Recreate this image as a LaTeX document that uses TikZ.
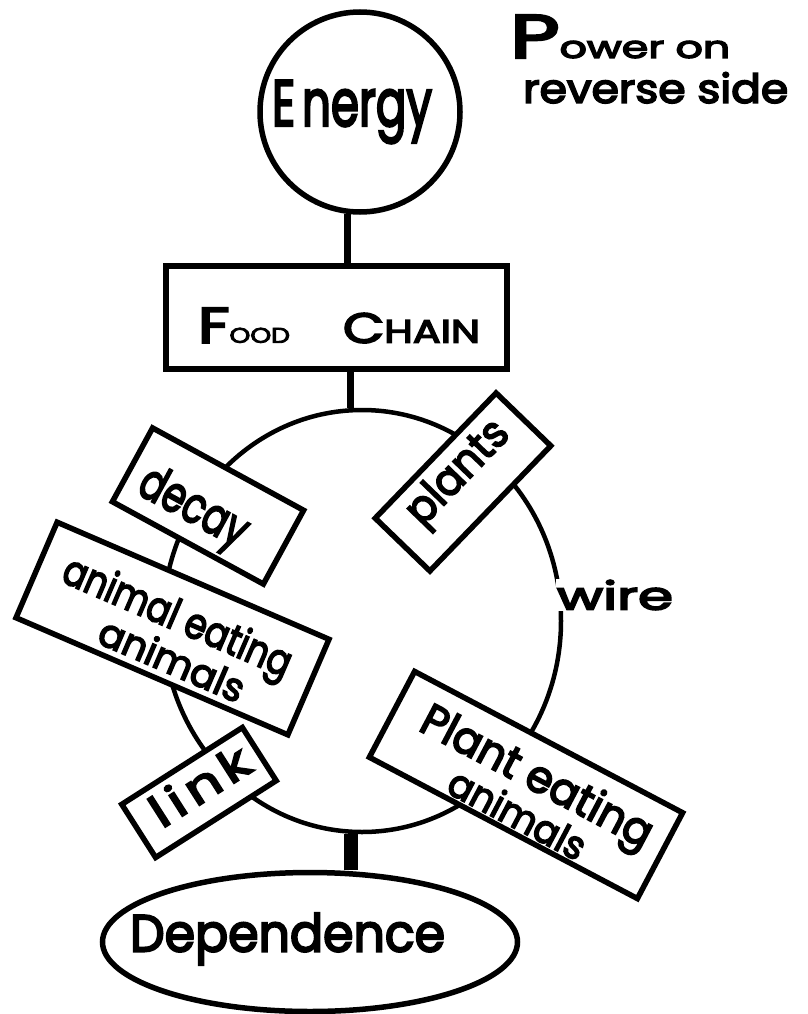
\documentclass[tikz,border=0pt]{standalone}
\usepackage{fontspec}
\setmainfont{Poppins}[FakeBold=4]
\usepackage{graphicx}
\usetikzlibrary{shapes.geometric}
\newcommand\fitt[3]{\resizebox*{#1pt}{#2pt}{#3}}
% place content with its visual centre at (dx,dy) from the node centre (dy down)
\newcommand\ctext[3]{\makebox[0pt]{\hspace*{#1pt}\hspace*{#1pt}\raisebox{-#2pt}[0pt][0pt]{\raisebox{\dimexpr(\depth-\height)/2\relax}{#3}}}}
\newcommand\twolines[3]{\vbox{\baselineskip=#3pt\lineskiplimit=-100pt\lineskip=0pt\halign{\hfil##\hfil\cr#1\cr#2\cr}}}
\tikzset{
  hand/.style={font=\normalfont},
  ink/.style={draw=black, line width=5.5pt},
  labelbox/.style={ink, fill=white, rectangle, inner sep=0pt, hand},
  conn/.style={draw=black, line width=7pt},
}
\begin{document}
\begin{tikzpicture}[x=1pt,y=-1pt]
\fill[white] (0,0) rectangle (807,1014);
\useasboundingbox (0,0) rectangle (807,1014);

% top nodes
\node[ink, hand, circle, minimum size=200pt, inner sep=0pt] (energy) at (360,112)
  {\ctext{-8}{0}{\fitt{160}{63}{E\hspace{0.15em}nergy}}};
\node[labelbox, minimum width=341pt, minimum height=103pt] (food) at (336.5,317.5)
  {\ctext{2.5}{8}{\fitt{92}{35}{{\fontsize{40}{40}\selectfont F}{\fontsize{17}{17}\selectfont OOD}}\hspace*{53pt}\fitt{137}{30}{{\fontsize{40}{40}\selectfont C}{\fontsize{31}{31}\selectfont HAIN}}}};
\node[anchor=north west, inner sep=0pt, align=left,
  font=\normalfont\fontsize{10}{45}\selectfont] (power) at (510,15)
  {\fitt{220}{43}{{\fontsize{20}{20}\selectfont P}ower on}\\\hspace*{13pt}\fitt{265}{31}{reverse side}};

% the wire circle
\node[draw=black, line width=4.5pt, ellipse, minimum width=398pt, minimum height=422pt, inner sep=0pt] (wirec) at (362,621) {};
\node[fill=white, inner sep=1pt, hand] (wire) at (615,595) {\fitt{116}{30}{wire}};

% labels on the circle
\node[labelbox, rotate=-28.6, minimum width=172pt, minimum height=84pt] (decay) at (208,506)
  {\ctext{-12}{11}{\fitt{117}{50}{decay}}};
\node[labelbox, rotate=46, minimum width=174pt, minimum height=76pt] (plants) at (463,482)
  {\ctext{3}{-8}{\fitt{128}{44}{plants}}};
\node[labelbox, rotate=-23.3, minimum width=296pt, minimum height=104pt] (aea) at (172.5,628.5)
  {\ctext{0}{6}{\twolines{\fitt{245}{44}{animal eating}}{\hspace*{24pt}\fitt{155}{30}{animals}}{42}}};
\node[labelbox, rotate=32.5, minimum width=143pt, minimum height=63pt] (link) at (199,792.5)
  {\ctext{4}{-6}{\fitt{110}{34}{l\hspace{0.12em}i\hspace{0.12em}n\hspace{0.1em}k}}};
\node[labelbox, rotate=-27.8, minimum width=303pt, minimum height=97pt] (pea) at (526,785)
  {\ctext{6}{6}{\twolines{\fitt{256}{46}{Plant eating}}{\fitt{150}{30}{animals}}{42}}};

% bottom node
\node[ink, hand, ellipse, minimum width=415pt, minimum height=139pt, inner sep=0pt] (dep) at (310,942)
  {\ctext{-22.5}{-3}{\fitt{315}{52}{Dependence}}};

% connectors
\draw[conn] (energy.-97) -- (energy.-97 |- food.north);
\draw[conn] (wirec.93.3 |- food.south) -- (wirec.93.3);
\draw[conn, line width=14pt] (wirec.-93.3) -- (wirec.-93.3 |- dep.north);
\end{tikzpicture}
\end{document}
